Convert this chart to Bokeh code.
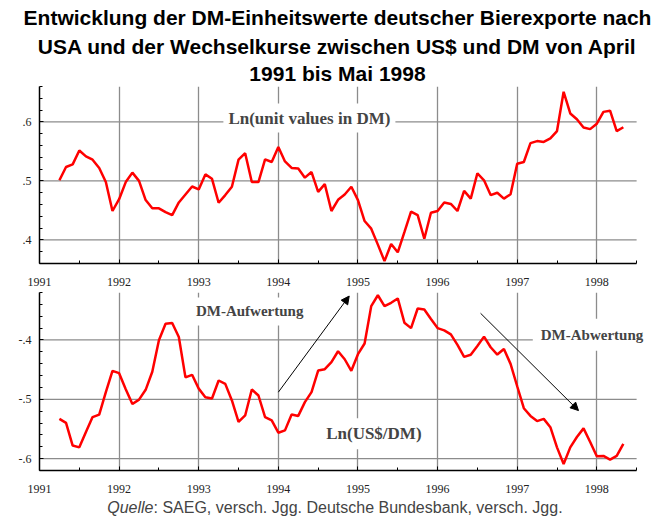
import numpy as np
from bokeh.plotting import figure
from bokeh.models import (Range1d, FixedTicker, Label, Arrow, NormalHead,
                          ColumnDataSource, CustomJSTickFormatter)
from bokeh.layouts import column
from bokeh.embed import file_html
from bokeh.resources import INLINE

# ---------------- data ----------------
title_lines = ["Entwicklung der DM-Einheitswerte deutscher Bierexporte nach",
               "USA und der Wechselkurse zwischen US$ und DM von April",
               "1991 bis Mai 1998"]
source_italic = "Quelle"
source_rest = ": SAEG, versch. Jgg. Deutsche Bundesbank, versch. Jgg."
year_ticks = [1991, 1992, 1993, 1994, 1995, 1996, 1997, 1998]
grid_years = [1992, 1993, 1994, 1995, 1996, 1997, 1998]
top_yticks = [0.4, 0.5, 0.6]
bot_yticks = [-0.6, -0.5, -0.4]
start_year, start_month = 1991, 4   # April 1991 .. May 1998, monthly

unit_values = [
    0.501, 0.5235, 0.528, 0.5515, 0.5415, 0.536, 0.522, 0.498, 0.449,
    0.469, 0.498, 0.514, 0.500, 0.4675, 0.4535, 0.4535, 0.447, 0.442, 0.4635, 0.477, 0.4905,
    0.4855, 0.511, 0.5035, 0.463, 0.476, 0.490, 0.536, 0.547, 0.498, 0.498, 0.5365, 0.532,
    0.5575, 0.533, 0.522, 0.521, 0.5055, 0.515, 0.4815, 0.4945, 0.449, 0.468, 0.477, 0.490,
    0.4675, 0.432, 0.419, 0.392, 0.364, 0.393, 0.379, 0.413, 0.448, 0.442, 0.402, 0.446,
    0.449, 0.4635, 0.461, 0.449, 0.483, 0.470, 0.513, 0.501, 0.476, 0.480, 0.470, 0.4775,
    0.529, 0.532, 0.564, 0.5675, 0.566, 0.572, 0.5845, 0.651, 0.6143, 0.6045, 0.5905, 0.5877,
    0.597, 0.617, 0.619, 0.5845, 0.591]

exchange = [
    -0.533, -0.5397, -0.578, -0.581, -0.555, -0.530, -0.5257, -0.488, -0.452,
    -0.456, -0.483, -0.508, -0.5005, -0.484, -0.4536, -0.4006, -0.3726, -0.3715, -0.395, -0.463, -0.4587,
    -0.482, -0.4964, -0.4986, -0.4683, -0.474, -0.502, -0.538, -0.5272, -0.4835, -0.4936, -0.530, -0.5356,
    -0.5563, -0.5524, -0.5255, -0.528, -0.5048, -0.488, -0.4515, -0.4493, -0.4375, -0.419, -0.4325, -0.452,
    -0.424, -0.406, -0.343, -0.3246, -0.343, -0.3374, -0.330, -0.3709, -0.380, -0.347, -0.3486, -0.3648,
    -0.380, -0.3838, -0.3905, -0.4084, -0.4285, -0.425, -0.410, -0.3944, -0.4123, -0.4246, -0.4151, -0.4403,
    -0.478, -0.515, -0.528, -0.5367, -0.533, -0.547, -0.581, -0.609, -0.581, -0.5636, -0.549, -0.572,
    -0.596, -0.5955, -0.6017, -0.5955, -0.575]

t = [start_year + (start_month - 1 + i) / 12.0 for i in range(len(unit_values))]
src = ColumnDataSource(dict(t=t, uv=unit_values, fx=exchange))

SERIF = "Liberation Serif"
SANS = "Liberation Sans"
GRID = "#8c8c8c"
X0, X_AX, X_END = 1991.0, 1998.5, 1998.8
W = 671


def style(p, yticks, yminor):
    p.outline_line_color = None
    p.xaxis.ticker = FixedTicker(ticks=year_ticks,
                                 minor_ticks=[y + 0.5 for y in year_ticks])
    p.xaxis.bounds = (X0, X_AX)
    p.yaxis.ticker = FixedTicker(ticks=yticks, minor_ticks=yminor)
    p.xgrid.ticker = FixedTicker(ticks=grid_years)
    p.xgrid.grid_line_color = GRID
    p.xgrid.grid_line_width = 1.3
    p.ygrid.visible = False
    # horizontal grid lines limited to the axis extent
    p.segment(x0=[X0] * len(yticks), x1=[X_AX] * len(yticks), y0=yticks, y1=yticks,
              line_color=GRID, line_width=1.3)
    for ax in (p.xaxis, p.yaxis):
        ax.axis_line_color = "black"
        ax.axis_line_width = 1.5
        ax.major_tick_in = 4
        ax.major_tick_out = 0
        ax.minor_tick_in = 3
        ax.minor_tick_out = 0
        ax.major_tick_line_color = "black"
        ax.minor_tick_line_color = "black"
        ax.major_label_text_font = SERIF
        ax.major_label_text_font_size = "12px"
        ax.major_label_text_color = "#222222"
    p.xaxis.major_label_standoff = 14
    p.yaxis.major_label_standoff = 8
    p.yaxis.formatter = CustomJSTickFormatter(
        code="return tick.toFixed(1).replace('0.', '.');")


def blank(h):
    b = figure(width=W, height=h, x_range=Range1d(0, W), y_range=Range1d(h, 0),
               x_axis_type=None, y_axis_type=None, output_backend="svg",
               toolbar_location=None, min_border=0)
    b.frame_align = False
    b.outline_line_color = None
    b.xgrid.visible = False
    b.ygrid.visible = False
    return b


# ---------------- header (title) ----------------
head = blank(84)
for line, yc in zip(title_lines, [17, 45.5, 72.5]):
    head.add_layout(Label(x=337, y=yc, text=line, text_font=SANS, text_font_style="bold",
                          text_font_size="21px", text_align="center", text_baseline="middle",
                          text_color="black"))

# ---------------- top panel ----------------
p1 = figure(width=W, height=208, x_range=Range1d(X0, X_END), y_range=Range1d(0.36, 0.66),
            output_backend="svg", toolbar_location=None,
            min_border_left=39, min_border_right=11, min_border_top=2, min_border_bottom=29)
style(p1, top_yticks, list(np.round(np.arange(0.36, 0.661, 0.02), 3)))
p1.line("t", "uv", source=src, line_color="#ff0000", line_width=2.5)
p1.add_layout(Label(x=1994.39, y=0.6065, text="Ln(unit values in DM)", text_font=SERIF,
                    text_font_style="bold", text_font_size="17px", text_align="center",
                    text_baseline="middle", background_fill_color="white", padding=5))

# ---------------- bottom panel ----------------
p2 = figure(width=W, height=206, x_range=Range1d(X0, X_END), y_range=Range1d(-0.62, -0.32),
            output_backend="svg", toolbar_location=None,
            min_border_left=39, min_border_right=11, min_border_top=0, min_border_bottom=28)
style(p2, bot_yticks, list(np.round(np.arange(-0.62, -0.319, 0.02), 3)))
p2.line("t", "fx", source=src, line_color="#ff0000", line_width=2.5)

lab = dict(text_font=SERIF, text_font_style="bold", text_align="center",
           text_baseline="middle", background_fill_color="white")
p2.add_layout(Label(x=1993.64, y=-0.352, text="DM-Aufwertung", text_font_size="15px",
                    padding=6, **lab))
p2.add_layout(Label(x=1997.94, y=-0.391, text="DM-Abwertung", text_font_size="15px",
                    padding=8, **lab))
p2.add_layout(Label(x=1995.2, y=-0.558, text="Ln(US$/DM)", text_font_size="17px",
                    padding=6, **lab))

p2.add_layout(Arrow(x_start=1994.0, y_start=-0.488, x_end=1994.89, y_end=-0.326,
                    line_width=1, line_color="black",
                    end=NormalHead(size=8, fill_color="black", line_color="black")))
p2.add_layout(Arrow(x_start=1996.54, y_start=-0.355, x_end=1997.77, y_end=-0.519,
                    line_width=1, line_color="black",
                    end=NormalHead(size=8, fill_color="black", line_color="black")))

# ---------------- footer (source) ----------------
foot = blank(19)
foot.add_layout(Label(x=153, y=8.5, text=source_italic, text_font=SANS, text_font_style="italic",
                      text_font_size="16px", text_align="right", text_baseline="middle"))
foot.add_layout(Label(x=153, y=8.5, text=source_rest, text_font=SANS, text_font_size="16px",
                      text_align="left", text_baseline="middle"))

layout = column(head, p1, p2, foot, spacing=0)
open("out.html", "w").write(file_html(layout, INLINE))
